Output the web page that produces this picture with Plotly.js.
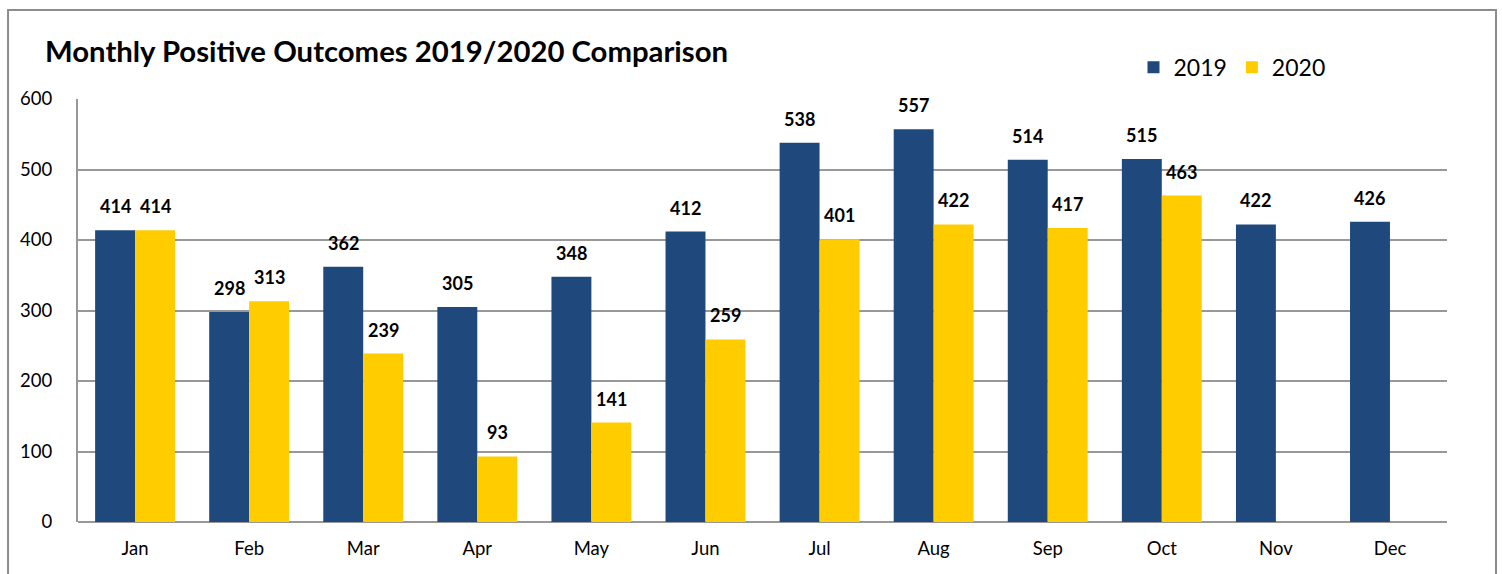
<!DOCTYPE html>
<html>
<head>
<meta charset="utf-8">
<script src="https://cdn.plot.ly/plotly-3.0.1.min.js"></script>
<style>
html,body{margin:0;padding:0;background:#fff;}
#chart{width:1502px;height:574px;}
</style>
</head>
<body>
<div id="chart"></div>
<script>
var months = ["Jan","Feb","Mar","Apr","May","Jun","Jul","Aug","Sep","Oct","Nov","Dec"];
var values2019 = [414,298,362,305,348,412,538,557,514,515,422,426];
var months2020 = ["Jan","Feb","Mar","Apr","May","Jun","Jul","Aug","Sep","Oct"];
var values2020 = [414,313,239,93,141,259,401,422,417,463];
var yTicks = [0,100,200,300,400,500,600];

var FONT = "Lato, 'Open Sans', sans-serif";
var C2019 = "#1F497D", C2020 = "#FFCC00";

var traces = [
  {type:"bar", name:"2019", x:months, y:values2019, marker:{color:C2019}, hoverinfo:"y"},
  {type:"bar", name:"2020", x:months2020, y:values2020, marker:{color:C2020}, hoverinfo:"y"}
];

var annotations = [];
months.forEach(function(m,i){
  annotations.push({x:m, y:values2019[i], xref:"x", yref:"y", text:String(values2019[i]),
    showarrow:false, xshift:-20, yshift:24, yanchor:"middle",
    font:{family:FONT, size:18, color:"#000", weight:"bold"}});
});
months2020.forEach(function(m,i){
  annotations.push({x:m, y:values2020[i], xref:"x", yref:"y", text:String(values2020[i]),
    showarrow:false, xshift:20, yshift:24, yanchor:"middle",
    font:{family:FONT, size:18, color:"#000", weight:"bold"}});
});
annotations.push({xref:"paper", yref:"paper", x:-0.0255, y:1.115, xanchor:"left", yanchor:"middle",
  text:"<b>Monthly Positive Outcomes 2019/2020 Comparison</b>", showarrow:false,
  font:{family:FONT, size:29.3, color:"#000"}});

var layout = {
  width:1502, height:574,
  margin:{l:78, r:55, t:99, b:52},
  paper_bgcolor:"#fff", plot_bgcolor:"#fff",
  font:{family:FONT, color:"#000"},
  barmode:"group", bargap:0.3, bargroupgap:0,
  showlegend:true,
  legend:{orientation:"h", x:0.771, y:1.075, xanchor:"left", yanchor:"middle",
    font:{family:FONT, size:23, color:"#000"}, itemwidth:30, traceorder:"normal"},
  xaxis:{type:"category", categoryarray:months, categoryorder:"array",
    showgrid:false, showline:false, zeroline:false, ticks:"",
    tickfont:{family:FONT, size:18.5, color:"#000"}, ticklabelstandoff:13},
  yaxis:{range:[0,600], tickvals:yTicks, ticktext:yTicks.map(String),
    showgrid:true, gridcolor:"#989898", gridwidth:2,
    showline:true, linecolor:"#989898", linewidth:2, zeroline:true, zerolinecolor:"#989898", zerolinewidth:2,
    ticks:"", tickfont:{family:FONT, size:18.5, color:"#000"}, ticklabelstandoff:20},
  annotations:annotations,
  shapes:[
    {type:"rect", xref:"paper", yref:"paper", x0:-0.0511, x1:1.0358, y0:-0.2, y1:1.2104,
     line:{color:"#8c8c8c", width:2}, fillcolor:"rgba(0,0,0,0)", layer:"below"}
  ]
};

Plotly.newPlot("chart", traces, layout, {displayModeBar:false, staticPlot:true});
</script>
</body>
</html>
